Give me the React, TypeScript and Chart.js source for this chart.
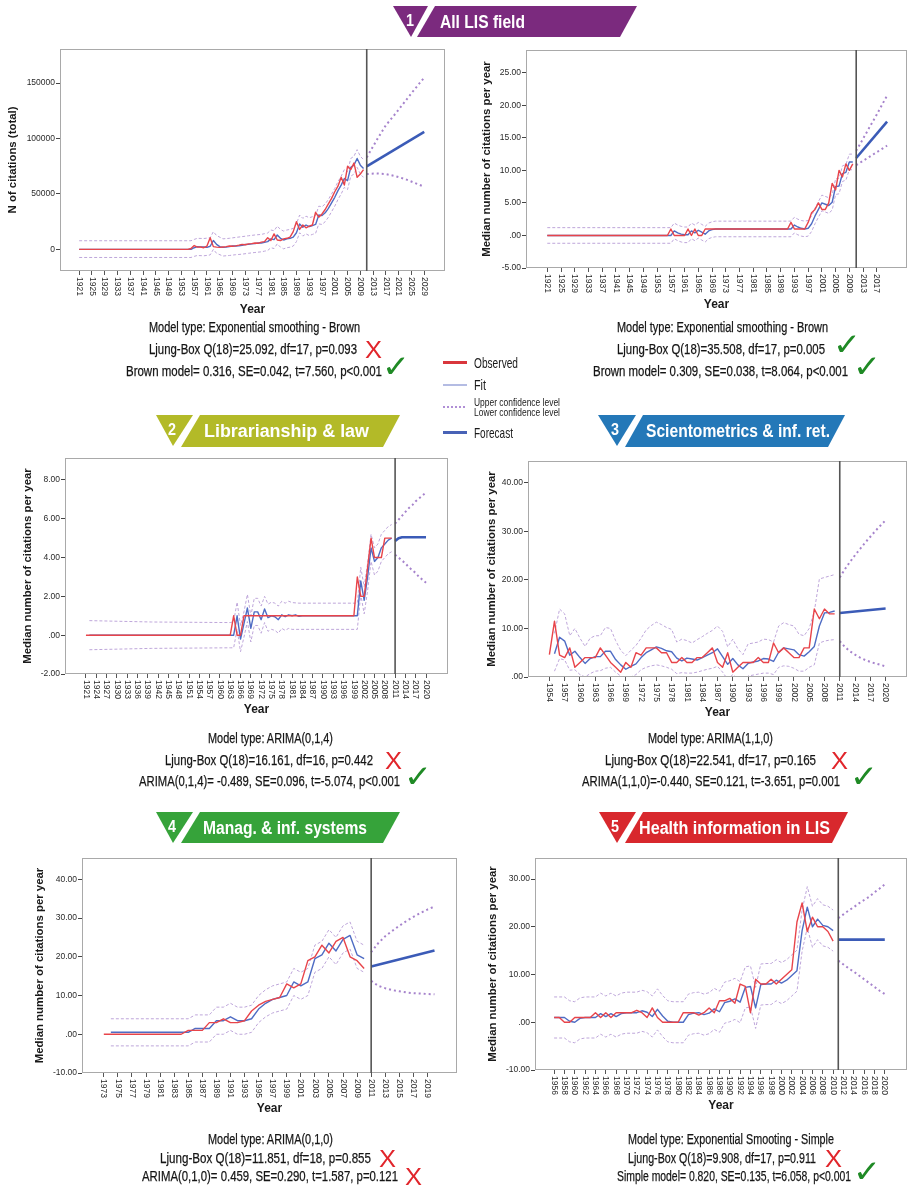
import React, { useEffect, useRef } from "react";
import { Chart, registerables } from "chart.js";

Chart.register(...registerables);

type P = [number, number];

// ================= DATA =================
const forecastStartYear = 2011;

// ---- 1. All LIS field (N of citations, total) ----
const c1XTicks = [1921, 1925, 1929, 1933, 1937, 1941, 1945, 1949, 1953, 1957, 1961, 1965, 1969, 1973, 1977, 1981, 1985, 1989, 1993, 1997, 2001, 2005, 2009, 2013, 2017, 2021, 2025, 2029];
const c1YTicks = [0, 50000, 100000, 150000];
const c1Observed: P[] = [[1921, 0], [1955, 0], [1956, 800], [1957, 3500], [1958, 2000], [1959, 2200], [1960, 1500], [1961, 3000], [1962, 10500], [1963, 2500], [1964, 2000], [1965, 1800], [1966, 2200], [1967, 2500], [1968, 3000], [1969, 2800], [1970, 3200], [1971, 3800], [1972, 4500], [1973, 4200], [1974, 5000], [1975, 5200], [1976, 5800], [1977, 5500], [1978, 6500], [1979, 7000], [1980, 10500], [1981, 8000], [1982, 14000], [1983, 8500], [1984, 8000], [1985, 9500], [1986, 10000], [1987, 11000], [1988, 16000], [1989, 25000], [1990, 18000], [1991, 22000], [1992, 19500], [1993, 21000], [1994, 22000], [1995, 33500], [1996, 29000], [1997, 32000], [1998, 36000], [1999, 41000], [2000, 46000], [2001, 52000], [2002, 57000], [2003, 65000], [2004, 58000], [2005, 75000], [2006, 72000], [2007, 78000], [2008, 65000], [2009, 68000], [2010, 72000]];
const c1Fit: P[] = [[1921, 0], [1956, 0], [1957, 1500], [1958, 2500], [1959, 2300], [1960, 2200], [1961, 1800], [1962, 2800], [1963, 8000], [1964, 4500], [1965, 2500], [1966, 1800], [1967, 2000], [1968, 2500], [1969, 3000], [1970, 3000], [1971, 3200], [1972, 3700], [1973, 4400], [1974, 4500], [1975, 5000], [1976, 5200], [1977, 5800], [1978, 5700], [1979, 6400], [1980, 7000], [1981, 9500], [1982, 8800], [1983, 13000], [1984, 10000], [1985, 8500], [1986, 9500], [1987, 10000], [1988, 11000], [1989, 15000], [1990, 23000], [1991, 20000], [1992, 22000], [1993, 20500], [1994, 21500], [1995, 22500], [1996, 31000], [1997, 30500], [1998, 33000], [1999, 37000], [2000, 42000], [2001, 47000], [2002, 53000], [2003, 58000], [2004, 64000], [2005, 62000], [2006, 74000], [2007, 76000], [2008, 82000], [2009, 76000], [2010, 73000]];
const c1Ucl: P[] = [[1921, 7800], [1956, 7800], [1957, 9000], [1958, 10000], [1960, 9800], [1962, 10500], [1963, 16000], [1964, 12500], [1966, 9500], [1968, 10000], [1970, 10800], [1972, 11500], [1974, 12300], [1976, 13000], [1978, 13500], [1979, 14200], [1980, 14800], [1981, 17500], [1982, 16800], [1983, 21000], [1984, 18000], [1985, 16500], [1986, 17500], [1987, 18000], [1988, 19000], [1989, 23000], [1990, 31000], [1991, 28000], [1992, 30000], [1993, 28500], [1994, 29500], [1995, 30500], [1996, 39000], [1997, 38500], [1998, 41000], [1999, 45000], [2000, 50000], [2001, 55000], [2002, 61000], [2003, 66000], [2004, 72000], [2005, 70000], [2006, 82000], [2007, 84000], [2008, 90000], [2009, 84000], [2010, 81000]];
const c1Lcl: P[] = [[1921, -7300], [1956, -7300], [1957, -6300], [1958, -5500], [1960, -5800], [1962, -5000], [1963, 0], [1964, -3500], [1966, -6000], [1968, -5500], [1970, -4800], [1972, -4300], [1974, -3500], [1976, -2800], [1978, -2200], [1979, -1600], [1980, -1000], [1981, 1500], [1982, 800], [1983, 5000], [1984, 2000], [1985, 500], [1986, 1500], [1987, 2000], [1988, 3000], [1989, 7000], [1990, 15000], [1991, 12000], [1992, 14000], [1993, 12500], [1994, 13500], [1995, 14500], [1996, 23000], [1997, 22500], [1998, 25000], [1999, 29000], [2000, 34000], [2001, 39000], [2002, 45000], [2003, 50000], [2004, 56000], [2005, 54000], [2006, 66000], [2007, 68000], [2008, 74000], [2009, 68000], [2010, 65000]];
const c1Forecast: P[] = [[2011, 75000], [2029, 106000]];
const c1FUcl: P[] = [[2011, 83000], [2014, 98000], [2017, 112000], [2020, 122500], [2023, 133500], [2026, 144500], [2029, 155000]];
const c1FLcl: P[] = [[2011, 68000], [2014, 68500], [2017, 68000], [2020, 66000], [2023, 63500], [2026, 60000], [2029, 56500]];

// ---- 1b. All LIS field (median) ----
const c2XTicks = [1921, 1925, 1929, 1933, 1937, 1941, 1945, 1949, 1953, 1957, 1961, 1965, 1969, 1973, 1977, 1981, 1985, 1989, 1993, 1997, 2001, 2005, 2009, 2013, 2017];
const c2YTicks = [-5, 0, 5, 10, 15, 20, 25];
const c2Observed: P[] = [[1921, 0], [1956, 0], [1957, 1], [1958, 0], [1961, 0], [1962, 1], [1963, 0], [1964, 1], [1965, 0], [1966, 0], [1967, 1], [1991, 1], [1992, 2], [1993, 1], [1996, 1], [1997, 2], [1998, 3.5], [1999, 4], [2000, 5], [2001, 4], [2002, 4], [2003, 5], [2004, 8], [2005, 7], [2006, 10], [2007, 9], [2008, 11], [2009, 10], [2010, 11]];
const c2Fit: P[] = [[1921, 0], [1957, 0], [1958, 0.7], [1959, 0.4], [1960, 0.2], [1961, 0.1], [1962, 0.1], [1963, 0.7], [1964, 0.4], [1965, 0.8], [1966, 0.5], [1967, 0.2], [1968, 0.7], [1969, 0.9], [1970, 1.0], [1992, 1.0], [1993, 1.6], [1994, 1.3], [1995, 1.1], [1996, 1.0], [1997, 1.1], [1998, 1.8], [1999, 3.0], [2000, 4.0], [2001, 5.0], [2002, 4.8], [2003, 4.6], [2004, 5.1], [2005, 7.5], [2006, 7.6], [2007, 9.5], [2008, 9.7], [2009, 11.3], [2010, 11.3]];
const c2Ucl: P[] = [[1921, 1.2], [1957, 1.2], [1958, 1.9], [1959, 1.6], [1960, 1.4], [1961, 1.3], [1962, 1.3], [1963, 1.9], [1964, 1.6], [1965, 2.0], [1966, 1.7], [1967, 1.4], [1968, 1.9], [1969, 2.1], [1970, 2.2], [1992, 2.2], [1993, 2.8], [1994, 2.5], [1995, 2.3], [1996, 2.2], [1997, 2.3], [1998, 3.0], [1999, 4.2], [2000, 5.2], [2001, 6.2], [2002, 6.0], [2003, 5.8], [2004, 6.3], [2005, 8.7], [2006, 8.8], [2007, 10.7], [2008, 10.9], [2009, 12.5], [2010, 12.5]];
const c2Lcl: P[] = [[1921, -1.2], [1957, -1.2], [1958, -0.5], [1959, -0.8], [1960, -1.0], [1961, -1.1], [1962, -1.1], [1963, -0.5], [1964, -0.8], [1965, -0.4], [1966, -0.7], [1967, -1.0], [1968, -0.5], [1969, -0.3], [1970, -0.2], [1992, -0.2], [1993, 0.4], [1994, 0.1], [1995, -0.1], [1996, -0.2], [1997, -0.1], [1998, 0.6], [1999, 1.8], [2000, 2.8], [2001, 3.8], [2002, 3.6], [2003, 3.4], [2004, 3.9], [2005, 6.3], [2006, 6.4], [2007, 8.3], [2008, 8.5], [2009, 10.1], [2010, 10.1]];
const c2Forecast: P[] = [[2011, 11.9], [2020, 17.5]];
const c2FUcl: P[] = [[2011, 13.0], [2014, 15.8], [2017, 18.6], [2020, 21.5]];
const c2FLcl: P[] = [[2011, 10.8], [2014, 11.8], [2017, 12.8], [2020, 13.8]];

// ---- 2. Librarianship & law ----
const c3XTicks = [1921, 1924, 1927, 1930, 1933, 1936, 1939, 1942, 1945, 1948, 1951, 1954, 1957, 1960, 1963, 1966, 1969, 1972, 1975, 1978, 1981, 1984, 1987, 1990, 1993, 1996, 1999, 2002, 2005, 2008, 2011, 2014, 2017, 2020];
const c3YTicks = [-2, 0, 2, 4, 6, 8];
const c3Observed: P[] = [[1921, 0], [1963, 0], [1964, 1], [1965, 0], [1966, 0], [1967, 1], [1999, 1], [2000, 3], [2001, 2], [2002, 2], [2003, 3.5], [2004, 5], [2005, 4], [2006, 4], [2007, 4], [2008, 5], [2009, 5], [2010, 5]];
const c3Fit: P[] = [[1922, 0], [1964, 0], [1965, 1.0], [1966, -0.2], [1967, 0.6], [1968, 1.4], [1969, 0.35], [1970, 1.2], [1971, 1.2], [1972, 0.8], [1973, 1.35], [1974, 0.9], [1975, 1.0], [1976, 0.95], [1977, 0.8], [1978, 1.05], [1979, 0.95], [1980, 1.05], [1981, 1.0], [1982, 1.05], [1983, 0.97], [1984, 1.0], [2000, 1.0], [2001, 2.8], [2002, 1.8], [2003, 3.0], [2004, 4.5], [2005, 3.8], [2006, 4.0], [2007, 4.5], [2008, 4.7], [2009, 4.9], [2010, 5.0]];
const c3Ucl: P[] = [[1922, 0.75], [1940, 0.68], [1963, 0.65], [1964, 0.7], [1965, 1.7], [1966, 0.5], [1967, 1.2], [1968, 2.1], [1969, 1.0], [1970, 1.9], [1971, 1.9], [1972, 1.5], [1973, 2.0], [1974, 1.6], [1975, 1.7], [1976, 1.65], [1977, 1.5], [1978, 1.75], [1979, 1.65], [1980, 1.75], [1981, 1.68], [1983, 1.65], [2000, 1.65], [2001, 3.5], [2002, 2.5], [2003, 3.7], [2004, 5.2], [2005, 4.5], [2006, 4.7], [2007, 5.2], [2008, 5.4], [2009, 5.6], [2010, 5.7]];
const c3Lcl: P[] = [[1922, -0.75], [1940, -0.68], [1963, -0.65], [1964, -0.65], [1965, 0.3], [1966, -0.85], [1967, -0.1], [1968, 0.7], [1969, -0.35], [1970, 0.5], [1971, 0.5], [1972, 0.1], [1973, 0.65], [1974, 0.2], [1975, 0.3], [1976, 0.25], [1977, 0.1], [1978, 0.35], [1979, 0.25], [1980, 0.35], [1981, 0.3], [2000, 0.3], [2001, 2.1], [2002, 1.1], [2003, 2.3], [2004, 3.8], [2005, 3.1], [2006, 3.3], [2007, 3.8], [2008, 4.0], [2009, 4.2], [2010, 4.3]];
const c3Forecast: P[] = [[2011, 4.85], [2012, 5.0], [2013, 5.05], [2020, 5.05]];
const c3FUcl: P[] = [[2011, 5.75], [2012, 5.95], [2013, 6.15], [2014, 6.35], [2015, 6.55], [2016, 6.7], [2017, 6.9], [2018, 7.05], [2019, 7.2], [2020, 7.35]];
const c3FLcl: P[] = [[2011, 4.15], [2012, 4.0], [2013, 3.85], [2014, 3.7], [2015, 3.5], [2016, 3.35], [2017, 3.2], [2018, 3.0], [2019, 2.85], [2020, 2.7]];

// ---- 3. Scientometrics & inf. ret. ----
const c4XTicks = [1954, 1957, 1960, 1963, 1966, 1969, 1972, 1975, 1978, 1981, 1984, 1987, 1990, 1993, 1996, 1999, 2002, 2005, 2008, 2011, 2014, 2017, 2020];
const c4YTicks = [0, 10, 20, 30, 40];
const c4Observed: P[] = [[1954, 4.6], [1955, 11.5], [1956, 4.5], [1957, 4], [1958, 6], [1959, 2], [1960, 3], [1961, 4], [1962, 4], [1963, 4], [1964, 6], [1965, 4.5], [1966, 3], [1967, 2], [1968, 1], [1969, 3], [1970, 2], [1971, 5], [1972, 4.5], [1973, 6], [1974, 6], [1975, 6], [1976, 5], [1977, 5], [1978, 3], [1979, 3], [1980, 4], [1981, 3], [1982, 3], [1983, 4], [1984, 4], [1985, 5], [1986, 6], [1987, 3], [1988, 2], [1989, 5], [1990, 1], [1991, 2], [1992, 3], [1993, 3], [1994, 3], [1995, 4], [1996, 3], [1997, 3], [1998, 7], [1999, 5], [2000, 6], [2001, 5], [2002, 4], [2003, 4], [2004, 6], [2005, 6], [2006, 14], [2007, 12], [2008, 14], [2009, 13], [2010, 13]];
const c4Fit: P[] = [[1955, 4.8], [1956, 8.2], [1957, 7.4], [1958, 4.5], [1959, 5.3], [1960, 4.0], [1961, 2.8], [1962, 3.8], [1963, 4.2], [1964, 4.2], [1965, 5.3], [1966, 5.3], [1967, 3.6], [1968, 2.5], [1969, 1.6], [1970, 2.2], [1971, 2.7], [1972, 4.0], [1973, 5.0], [1974, 5.6], [1975, 6.2], [1976, 5.9], [1977, 5.4], [1978, 5.2], [1979, 3.9], [1980, 3.3], [1981, 3.9], [1982, 3.7], [1983, 3.5], [1984, 4.0], [1985, 4.5], [1986, 5.0], [1987, 5.8], [1988, 4.2], [1989, 2.6], [1990, 3.8], [1991, 2.5], [1992, 1.7], [1993, 2.8], [1994, 3.1], [1995, 3.3], [1996, 3.8], [1997, 3.7], [1998, 3.2], [1999, 5.1], [2000, 6.0], [2001, 5.8], [2002, 5.6], [2003, 4.6], [2004, 4.3], [2005, 5.2], [2006, 6.3], [2007, 10.5], [2008, 13.2], [2009, 13.3], [2010, 13.6]];
const c4Ucl: P[] = [[1955, 9], [1956, 14], [1957, 13], [1958, 8.5], [1959, 10], [1960, 8], [1961, 6.3], [1962, 8], [1963, 8.5], [1964, 8.5], [1965, 10.2], [1966, 10], [1967, 7.5], [1968, 5.5], [1969, 4.4], [1970, 5.5], [1971, 6.5], [1972, 8], [1973, 9.7], [1974, 10.6], [1975, 11.3], [1976, 10.8], [1977, 10.2], [1978, 9.8], [1979, 7.2], [1980, 7.8], [1981, 7.5], [1982, 7], [1983, 7.7], [1984, 8.3], [1985, 9], [1986, 9.6], [1987, 10.5], [1988, 9.4], [1989, 6.2], [1990, 7.8], [1991, 5.8], [1992, 4.6], [1993, 6.8], [1994, 7], [1995, 7.2], [1996, 7.8], [1997, 7.7], [1998, 7.2], [1999, 10.5], [2000, 11.2], [2001, 10.8], [2002, 10.5], [2003, 8.8], [2004, 8.5], [2005, 10], [2006, 13.5], [2007, 20.2], [2008, 20.5], [2009, 20.8], [2010, 21.1]];
const c4Lcl: P[] = [[1955, 1.2], [1956, 3.8], [1957, 3.5], [1958, 1.4], [1959, 1.5], [1960, 0.5], [1961, 0], [1962, 0.7], [1963, 1.2], [1964, 1.3], [1965, 1.8], [1966, 2], [1967, 1], [1968, 0.2], [1969, -0.5], [1970, 0], [1971, 0.5], [1972, 1.5], [1973, 2], [1974, 2.3], [1975, 2.5], [1976, 2.3], [1977, 2], [1978, 1.6], [1979, 0.7], [1980, 0.9], [1981, 0.8], [1982, 0.8], [1983, 1], [1984, 1.3], [1985, 1.6], [1986, 1.8], [1987, 2.2], [1988, 1], [1989, -0.5], [1990, 0.5], [1991, -0.3], [1992, -0.8], [1993, 0.2], [1994, 0.4], [1995, 0.6], [1996, 0.8], [1997, 0.8], [1998, 0.5], [1999, 2], [2000, 2.3], [2001, 2.2], [2002, 1.8], [2003, 1.2], [2004, 1.2], [2005, 2], [2006, 2.5], [2007, 7], [2008, 7.4], [2009, 7.6], [2010, 7.7]];
const c4Forecast: P[] = [[2011, 13.2], [2020, 14.1]];
const c4FUcl: P[] = [[2011, 20.5], [2012, 22.2], [2013, 23.7], [2014, 25.1], [2015, 26.4], [2016, 27.7], [2017, 28.9], [2018, 30.1], [2019, 31.2], [2020, 32.3]];
const c4FLcl: P[] = [[2011, 7.4], [2012, 6.2], [2013, 5.3], [2014, 4.6], [2015, 4.0], [2016, 3.5], [2017, 3.1], [2018, 2.8], [2019, 2.5], [2020, 2.2]];

// ---- 4. Manag. & inf. systems ----
const c5XTicks = [1973, 1975, 1977, 1979, 1981, 1983, 1985, 1987, 1989, 1991, 1993, 1995, 1997, 1999, 2001, 2003, 2005, 2007, 2009, 2011, 2013, 2015, 2017, 2019];
const c5YTicks = [-10, 0, 10, 20, 30, 40];
const c5Observed: P[] = [[1973, 0], [1984, 0], [1985, 1], [1986, 1], [1987, 1], [1988, 3], [1989, 3], [1990, 4], [1991, 3], [1992, 3], [1993, 3.5], [1994, 6], [1995, 7.5], [1996, 8.5], [1997, 9], [1998, 9.5], [1999, 13], [2000, 12], [2001, 13], [2002, 19], [2003, 20], [2004, 23], [2005, 21], [2006, 24], [2007, 25], [2008, 20], [2009, 19], [2010, 17]];
const c5Fit: P[] = [[1974, 0.5], [1985, 0.5], [1986, 1.5], [1987, 1.5], [1988, 1.5], [1989, 3.5], [1990, 3.5], [1991, 4.5], [1992, 3.5], [1993, 3.5], [1994, 4.0], [1995, 6.5], [1996, 8.0], [1997, 9.0], [1998, 9.5], [1999, 10.0], [2000, 13.5], [2001, 12.5], [2002, 13.5], [2003, 19.5], [2004, 20.5], [2005, 23.5], [2006, 21.5], [2007, 24.5], [2008, 25.5], [2009, 20.5], [2010, 19.5]];
const c5Ucl: P[] = [[1974, 4], [1985, 4], [1986, 5], [1987, 5], [1988, 5], [1989, 7], [1990, 7], [1991, 8], [1992, 7], [1993, 7], [1994, 7.5], [1995, 10], [1996, 11.5], [1997, 12.5], [1998, 13], [1999, 13.5], [2000, 17], [2001, 16], [2002, 17], [2003, 23], [2004, 24], [2005, 27], [2006, 25], [2007, 28], [2008, 29], [2009, 24], [2010, 23]];
const c5Lcl: P[] = [[1974, -3], [1985, -3], [1986, -2], [1987, -2], [1988, -2], [1989, 0], [1990, 0], [1991, 1], [1992, 0], [1993, 0], [1994, 0.5], [1995, 3], [1996, 4.5], [1997, 5.5], [1998, 6], [1999, 6.5], [2000, 10], [2001, 9], [2002, 10], [2003, 16], [2004, 17], [2005, 20], [2006, 18], [2007, 21], [2008, 22], [2009, 17], [2010, 16]];
const c5Forecast: P[] = [[2011, 17.5], [2020, 21.6]];
const c5FUcl: P[] = [[2011, 21.2], [2012, 23.5], [2013, 25.3], [2014, 26.7], [2015, 28.0], [2016, 29.2], [2017, 30.3], [2018, 31.3], [2019, 32.2], [2020, 33.0]];
const c5FLcl: P[] = [[2011, 13.8], [2012, 12.5], [2013, 11.9], [2014, 11.4], [2015, 11.1], [2016, 10.8], [2017, 10.6], [2018, 10.5], [2019, 10.4], [2020, 10.3]];

// ---- 5. Health information in LIS ----
const c6XTicks = [1956, 1958, 1960, 1962, 1964, 1966, 1968, 1970, 1972, 1974, 1976, 1978, 1980, 1982, 1984, 1986, 1988, 1990, 1992, 1994, 1996, 1998, 2000, 2002, 2004, 2006, 2008, 2010, 2012, 2014, 2016, 2018, 2020];
const c6YTicks = [-10, 0, 10, 20, 30];
const c6Observed: P[] = [[1956, 1], [1957, 1], [1958, 0], [1959, 0], [1960, 1], [1961, 1], [1962, 1], [1963, 1], [1964, 2], [1965, 1], [1966, 2], [1967, 1], [1968, 2], [1969, 2], [1970, 2], [1971, 2], [1972, 2.5], [1973, 2], [1974, 1], [1975, 3], [1976, 1], [1977, 0], [1978, 0], [1979, 0], [1980, 0], [1981, 2], [1982, 2], [1983, 2], [1984, 1.5], [1985, 2], [1986, 3], [1987, 2], [1988, 4.5], [1989, 4.5], [1990, 5], [1991, 4], [1992, 8], [1993, 7.5], [1994, 2], [1995, 9], [1996, 8], [1997, 8], [1998, 9], [1999, 8], [2000, 9], [2001, 10], [2002, 11], [2003, 21], [2004, 25], [2005, 19], [2006, 22], [2007, 20], [2008, 20], [2009, 19], [2010, 17]];
const c6Fit: P[] = [[1956, 1], [1957, 1], [1958, 1], [1959, 0.2], [1960, 0], [1961, 0.8], [1962, 1], [1963, 1], [1964, 1], [1965, 1.8], [1966, 1.2], [1967, 1.8], [1968, 1.2], [1969, 1.8], [1970, 2], [1971, 2], [1972, 2], [1973, 2.4], [1974, 2.1], [1975, 1.2], [1976, 2.7], [1977, 1.3], [1978, 0.2], [1979, 0], [1980, 0], [1981, 0], [1982, 1.6], [1983, 1.9], [1984, 2], [1985, 1.6], [1986, 1.9], [1987, 2.8], [1988, 2.2], [1989, 4.1], [1990, 4.4], [1991, 4.9], [1992, 4.2], [1993, 7.3], [1994, 7.5], [1995, 3], [1996, 7.9], [1997, 8], [1998, 8], [1999, 8.8], [2000, 8.2], [2001, 8.8], [2002, 9.8], [2003, 10.8], [2004, 19.2], [2005, 24.1], [2006, 20], [2007, 21.6], [2008, 20.3], [2009, 20], [2010, 19.2]];
const c6Ucl: P[] = [[1956, 5.3], [1957, 5.3], [1958, 5.3], [1959, 4.5], [1960, 4.3], [1961, 5.1], [1962, 5.3], [1963, 5.3], [1964, 5.3], [1965, 6.1], [1966, 5.5], [1967, 6.1], [1968, 5.5], [1969, 6.1], [1970, 6.3], [1971, 6.3], [1972, 6.3], [1973, 6.7], [1974, 6.4], [1975, 5.5], [1976, 7.0], [1977, 5.6], [1978, 4.5], [1979, 4.3], [1980, 4.3], [1981, 4.3], [1982, 5.9], [1983, 6.2], [1984, 6.3], [1985, 5.9], [1986, 6.2], [1987, 7.1], [1988, 6.5], [1989, 8.4], [1990, 8.7], [1991, 9.2], [1992, 8.5], [1993, 11.6], [1994, 11.8], [1995, 7.3], [1996, 12.2], [1997, 12.3], [1998, 12.3], [1999, 13.1], [2000, 12.5], [2001, 13.1], [2002, 14.1], [2003, 15.1], [2004, 23.5], [2005, 28.4], [2006, 24.3], [2007, 25.9], [2008, 24.6], [2009, 24.3], [2010, 23.5]];
const c6Lcl: P[] = [[1956, -3.3], [1957, -3.3], [1958, -3.3], [1959, -4.1], [1960, -4.3], [1961, -3.5], [1962, -3.3], [1963, -3.3], [1964, -3.3], [1965, -2.5], [1966, -3.1], [1967, -2.5], [1968, -3.1], [1969, -2.5], [1970, -2.3], [1971, -2.3], [1972, -2.3], [1973, -1.9], [1974, -2.2], [1975, -3.1], [1976, -1.6], [1977, -3.0], [1978, -4.1], [1979, -4.3], [1980, -4.3], [1981, -4.3], [1982, -2.7], [1983, -2.4], [1984, -2.3], [1985, -2.7], [1986, -2.4], [1987, -1.5], [1988, -2.1], [1989, -0.2], [1990, 0.1], [1991, 0.6], [1992, -0.1], [1993, 3.0], [1994, 3.2], [1995, -1.3], [1996, 3.6], [1997, 3.7], [1998, 3.7], [1999, 4.5], [2000, 3.9], [2001, 4.5], [2002, 5.5], [2003, 6.5], [2004, 14.9], [2005, 19.8], [2006, 15.7], [2007, 17.3], [2008, 16.0], [2009, 15.7], [2010, 14.9]];
const c6Forecast: P[] = [[2011, 17.3], [2020, 17.3]];
const c6FUcl: P[] = [[2011, 21.8], [2012, 22.6], [2013, 23.4], [2014, 24.1], [2015, 24.9], [2016, 25.6], [2017, 26.3], [2018, 27.2], [2019, 28.0], [2020, 28.9]];
const c6FLcl: P[] = [[2011, 12.9], [2012, 12.1], [2013, 11.3], [2014, 10.6], [2015, 9.8], [2016, 9.0], [2017, 8.2], [2018, 7.4], [2019, 6.6], [2020, 5.9]];

// ---- statistics texts ----
const c1Stats = ["Model type: Exponential smoothing - Brown", "Ljung-Box Q(18)=25.092, df=17, p=0.093", "Brown model= 0.316, SE=0.042, t=7.560, p<0.001"];
const c1Marks = ["", "x", "ok"];
const c2Stats = ["Model type: Exponential smoothing - Brown", "Ljung-Box Q(18)=35.508, df=17, p=0.005", "Brown model= 0.309, SE=0.038, t=8.064, p<0.001"];
const c2Marks = ["", "ok", "ok"];
const c3Stats = ["Model type: ARIMA(0,1,4)", "Ljung-Box Q(18)=16.161, df=16, p=0.442", "ARIMA(0,1,4)= -0.489, SE=0.096, t=-5.074, p<0.001"];
const c3Marks = ["", "x", "ok"];
const c4Stats = ["Model type: ARIMA(1,1,0)", "Ljung-Box Q(18)=22.541, df=17, p=0.165", "ARIMA(1,1,0)=-0.440, SE=0.121, t=-3.651, p=0.001"];
const c4Marks = ["", "x", "ok"];
const c5Stats = ["Model type: ARIMA(0,1,0)", "Ljung-Box Q(18)=11.851, df=18, p=0.855", "ARIMA(0,1,0)= 0.459, SE=0.290, t=1.587, p=0.121"];
const c5Marks = ["", "x", "x"];
const c6Stats = ["Model type: Exponential Smooting - Simple", "Ljung-Box Q(18)=9.908, df=17, p=0.911", "Simple model= 0.820, SE=0.135, t=6.058, p<0.001"];
const c6Marks = ["", "x", "ok"];

const legendLabels = ["Observed", "Fit", "Upper confidence level", "Lower confidence level", "Forecast"];

// ================= STYLE / LAYOUT =================
const ARIAL = '"Liberation Sans", Arial, Helvetica, sans-serif';

const COL = {
  observed: "#e8444a",
  fit: "#4f6cc4",
  ci: "#bea6da",
  forecast: "#3b5bb7",
  fci: "#a683cc",
  frame: "#a9a9a9",
  split: "#555555",
};

const PAD_TOP = 8;
const PAD_RIGHT = 8;

const fmtMedian = (v: number) => {
  const s = Math.abs(v).toFixed(2);
  return (v < 0 ? "-" : "") + (s.startsWith("0.") ? s.slice(1) : s);
};

const framePlugin = {
  id: "frame",
  afterDraw(chart: any, _args: any, opts: any) {
    const { ctx, chartArea: a } = chart;
    const x = chart.scales.x;
    ctx.save();
    ctx.setLineDash([]);
    ctx.strokeStyle = COL.frame;
    ctx.lineWidth = 1;
    ctx.strokeRect(Math.round(a.left) + 0.5, Math.round(a.top) + 0.5, Math.round(a.width) - 1, Math.round(a.height) - 1);
    const sx = x.getPixelForValue(opts.split);
    ctx.strokeStyle = COL.split;
    ctx.lineWidth = 1.6;
    ctx.beginPath();
    ctx.moveTo(sx, a.top);
    ctx.lineTo(sx, a.bottom);
    ctx.stroke();
    ctx.fillStyle = "#2a2a2a";
    ctx.font = `8.5px ${ARIAL}`;
    ctx.textAlign = "left";
    ctx.textBaseline = "middle";
    x.ticks.forEach((t: any) => {
      const px = x.getPixelForValue(t.value);
      ctx.save();
      ctx.translate(px, a.bottom + 6);
      ctx.rotate(Math.PI / 2);
      ctx.fillText(String(t.value), 0, 0);
      ctx.restore();
    });
    ctx.restore();
  },
};

type Spec = {
  key: string;
  box: { left: number; top: number; right: number; bottom: number };
  yW: number;
  xH: number;
  xRange: [number, number];
  yRange: [number, number];
  xTicks: number[];
  yTicks: number[];
  yTitle: string;
  yTitlePad: number;
  decimals: boolean;
  observed: P[];
  fit: P[];
  ucl: P[];
  lcl: P[];
  forecast: P[];
  fUcl: P[];
  fLcl: P[];
};

const CHARTS: Spec[] = [
  { key: "c1", box: { left: 60, top: 49, right: 445, bottom: 271 }, yW: 60, xH: 50, xRange: [1915, 2035.5], yRange: [-19500, 180800], xTicks: c1XTicks, yTicks: c1YTicks, yTitle: "N of citations (total)", yTitlePad: 5.9, decimals: false, observed: c1Observed, fit: c1Fit, ucl: c1Ucl, lcl: c1Lcl, forecast: c1Forecast, fUcl: c1FUcl, fLcl: c1FLcl },
  { key: "c2", box: { left: 526, top: 50, right: 907, bottom: 268 }, yW: 50, xH: 48, xRange: [1914.8, 2025.8], yRange: [-5, 28.5], xTicks: c2XTicks, yTicks: c2YTicks, yTitle: "Median number of citations per year", yTitlePad: 4.5, decimals: true, observed: c2Observed, fit: c2Fit, ucl: c2Ucl, lcl: c2Lcl, forecast: c2Forecast, fUcl: c2FUcl, fLcl: c2FLcl },
  { key: "c3", box: { left: 65, top: 458, right: 448, bottom: 674 }, yW: 50, xH: 47, xRange: [1914.9, 2026.4], yRange: [-2, 9.13], xTicks: c3XTicks, yTicks: c3YTicks, yTitle: "Median number of citations per year", yTitlePad: 6.5, decimals: true, observed: c3Observed, fit: c3Fit, ucl: c3Ucl, lcl: c3Lcl, forecast: c3Forecast, fUcl: c3FUcl, fLcl: c3FLcl },
  { key: "c4", box: { left: 528, top: 461, right: 907, bottom: 677 }, yW: 50, xH: 47, xRange: [1949.8, 2024.2], yRange: [0, 44.5], xTicks: c4XTicks, yTicks: c4YTicks, yTitle: "Median number of citations per year", yTitlePad: 6.8, decimals: true, observed: c4Observed, fit: c4Fit, ucl: c4Ucl, lcl: c4Lcl, forecast: c4Forecast, fUcl: c4FUcl, fLcl: c4FLcl },
  { key: "c5", box: { left: 82, top: 858, right: 457, bottom: 1073 }, yW: 50, xH: 47, xRange: [1969.9, 2023.2], yRange: [-10, 45.5], xTicks: c5XTicks, yTicks: c5YTicks, yTitle: "Median number of citations per year", yTitlePad: 1.2, decimals: true, observed: c5Observed, fit: c5Fit, ucl: c5Ucl, lcl: c5Lcl, forecast: c5Forecast, fUcl: c5FUcl, fLcl: c5FLcl },
  { key: "c6", box: { left: 535, top: 858, right: 907, bottom: 1070 }, yW: 50, xH: 47, xRange: [1952.3, 2024.3], yRange: [-10, 34.4], xTicks: c6XTicks, yTicks: c6YTicks, yTitle: "Median number of citations per year", yTitlePad: 1.5, decimals: true, observed: c6Observed, fit: c6Fit, ucl: c6Ucl, lcl: c6Lcl, forecast: c6Forecast, fUcl: c6FUcl, fLcl: c6FLcl },
];

// text line placement: start x, width (condensed via textLength), centre y, mark x
const STAT_BLOCKS = [
  { lines: c1Stats, marks: c1Marks, xs: [149, 149, 126], ws: [211, 208, 256], ys: [327, 349, 371], mx: [0, 365, 382] },
  { lines: c2Stats, marks: c2Marks, xs: [617, 617, 593], ws: [211, 208, 255], ys: [327, 349, 371], mx: [0, 833, 853] },
  { lines: c3Stats, marks: c3Marks, xs: [208, 165, 139], ws: [125, 208, 261], ys: [738, 760, 781], mx: [0, 385, 404] },
  { lines: c4Stats, marks: c4Marks, xs: [648, 605, 582], ws: [125, 211, 258], ys: [738, 760, 781], mx: [0, 831, 850] },
  { lines: c5Stats, marks: c5Marks, xs: [208, 160, 142], ws: [125, 211, 256], ys: [1139, 1158, 1176], mx: [0, 379, 405] },
  { lines: c6Stats, marks: c6Marks, xs: [628, 628, 617], ws: [206, 188, 234], ys: [1139, 1158, 1176], mx: [0, 825, 853] },
];

const BANNERS = [
  { num: "1", label: "All LIS field", color: "#7b2a7e", tri: "393,6 428,6 411,37", para: "435,6 637,6 620,37 417,37", numX: 410, textX: 440, textW: 85, baseY: 28 },
  { num: "2", label: "Librarianship & law", color: "#b3ba28", tri: "156,415 193,415 173,446", para: "200,415 400,415 383,447 181,447", numX: 172, textX: 204, textW: 165, baseY: 437 },
  { num: "3", label: "Scientometrics & inf. ret.", color: "#2478b8", tri: "598,415 636,415 617,446", para: "643,415 845,415 828,447 625,447", numX: 615, textX: 646, textW: 184, baseY: 437 },
  { num: "4", label: "Manag. & inf. systems", color: "#36a33a", tri: "156,812 193,812 173,843", para: "200,812 400,812 383,843 181,843", numX: 172, textX: 203, textW: 164, baseY: 834 },
  { num: "5", label: "Health information in LIS", color: "#d8282d", tri: "599,812 636,812 617,843", para: "643,812 848,812 832,843 625,843", numX: 615, textX: 639, textW: 191, baseY: 834 },
];

const toXY = (arr: P[]) => arr.map(([x, y]) => ({ x, y }));

function buildConfig(s: Spec): any {
  const ds = (label: string, data: P[], color: string, width: number, dash: number[] = []) => ({
    label,
    data: toXY(data),
    borderColor: color,
    backgroundColor: color,
    borderWidth: width,
    borderDash: dash,
    pointRadius: 0,
    pointHoverRadius: 0,
    fill: false,
    tension: 0,
    borderJoinStyle: "round",
  });
  return {
    type: "line",
    data: {
      datasets: [
        ds("Forecast", s.forecast, COL.forecast, 2.6),
        ds("Observed", s.observed, COL.observed, 1.4),
        ds("Fit", s.fit, COL.fit, 1.4),
        ds("UCL (forecast)", s.fUcl, COL.fci, 2, [2, 3]),
        ds("LCL (forecast)", s.fLcl, COL.fci, 2, [2, 3]),
        ds("UCL", s.ucl, COL.ci, 1, [3, 2]),
        ds("LCL", s.lcl, COL.ci, 1, [3, 2]),
      ],
    },
    options: {
      responsive: false,
      animation: false,
      devicePixelRatio: 1,
      events: [],
      layout: { padding: { top: PAD_TOP, right: PAD_RIGHT, left: 0, bottom: 0 } },
      plugins: {
        legend: { display: false },
        tooltip: { enabled: false },
        frame: { split: forecastStartYear },
      },
      scales: {
        x: {
          type: "linear",
          min: s.xRange[0],
          max: s.xRange[1],
          afterBuildTicks: (sc: any) => {
            sc.ticks = s.xTicks.map((v) => ({ value: v }));
          },
          afterFit: (sc: any) => {
            sc.height = s.xH;
          },
          ticks: { autoSkip: false, color: "rgba(0,0,0,0)", minRotation: 90, maxRotation: 90, font: { size: 8, family: ARIAL } },
          grid: { drawOnChartArea: false, drawTicks: true, tickLength: 4, color: "#555" },
          border: { display: false },
          title: { display: true, text: "Year", color: "#1a1a1a", font: { family: ARIAL, size: 12, weight: "bold" }, padding: { top: 0, bottom: 4 } },
        },
        y: {
          type: "linear",
          min: s.yRange[0],
          max: s.yRange[1],
          afterBuildTicks: (sc: any) => {
            sc.ticks = s.yTicks.map((v) => ({ value: v }));
          },
          afterFit: (sc: any) => {
            sc.width = s.yW;
          },
          ticks: {
            color: "#2a2a2a",
            padding: 1,
            font: { size: 8.5, family: ARIAL },
            callback: (v: any) => (s.decimals ? fmtMedian(Number(v)) : String(v)),
          },
          grid: { drawOnChartArea: false, drawTicks: true, tickLength: 4, color: "#444" },
          border: { display: false },
          title: { display: true, text: s.yTitle, color: "#1a1a1a", font: { family: ARIAL, size: 11.4, weight: "bold" }, padding: { top: s.yTitlePad, bottom: 0 } },
        },
      },
    },
    plugins: [framePlugin],
  };
}

function LineChart({ spec }: { spec: Spec }) {
  const ref = useRef<HTMLCanvasElement>(null);
  const { box, yW, xH } = spec;
  const left = box.left - yW;
  const top = box.top - PAD_TOP;
  const width = box.right - box.left + yW + PAD_RIGHT;
  const height = box.bottom - box.top + PAD_TOP + xH;
  useEffect(() => {
    if (!ref.current) return;
    const chart = new Chart(ref.current, buildConfig(spec));
    return () => chart.destroy();
  }, [spec]);
  return <canvas ref={ref} width={width} height={height} style={{ position: "absolute", left, top, width, height }} />;
}

function Mark({ kind, x, y }: { kind: string; x: number; y: number }) {
  if (kind === "ok") {
    return (
      <text x={x} y={y - 5} dominantBaseline="central" fontFamily='"DejaVu Sans", sans-serif' fontWeight="bold" fontSize={31} fill="#1f8a25" textLength={28} lengthAdjust="spacingAndGlyphs">
        ✓
      </text>
    );
  }
  if (kind === "x") {
    return (
      <text x={x} y={y} dominantBaseline="central" fontFamily={ARIAL} fontSize={24} fill="#e1252b" textLength={17} lengthAdjust="spacingAndGlyphs">
        X
      </text>
    );
  }
  return null;
}

function Overlay() {
  const legendText = (label: string, y: number, size: number, w: number) => (
    <text x={474} y={y} dominantBaseline="central" fontFamily={ARIAL} fontSize={size} fill="#1a1a1a" textLength={w} lengthAdjust="spacingAndGlyphs">
      {label}
    </text>
  );
  return (
    <svg width={908} height={1188} style={{ position: "absolute", left: 0, top: 0, pointerEvents: "none" }}>
      {BANNERS.map((b) => (
        <g key={b.num}>
          <polygon points={b.tri} fill={b.color} />
          <polygon points={b.para} fill={b.color} />
          <text x={b.numX} y={b.baseY - 2} fill="#fff" textAnchor="middle" fontFamily={ARIAL} fontWeight="bold" fontSize={17} textLength={8} lengthAdjust="spacingAndGlyphs">
            {b.num}
          </text>
          <text x={b.textX} y={b.baseY} fill="#fff" fontFamily={ARIAL} fontWeight="bold" fontSize={17.5} textLength={b.textW} lengthAdjust="spacingAndGlyphs">
            {b.label}
          </text>
        </g>
      ))}
      {STAT_BLOCKS.map((b, bi) => (
        <g key={bi}>
          {b.lines.map((t, i) => (
            <g key={i}>
              <text x={b.xs[i]} y={b.ys[i]} dominantBaseline="central" fontFamily={ARIAL} fontSize={14.5} fill="#151515" stroke="#151515" strokeWidth={0.25} textLength={b.ws[i]} lengthAdjust="spacingAndGlyphs">
                {t}
              </text>
              <Mark kind={b.marks[i]} x={b.mx[i]} y={b.ys[i]} />
            </g>
          ))}
        </g>
      ))}
      {/* legend */}
      <line x1={443} x2={467} y1={362.5} y2={362.5} stroke="#d9363c" strokeWidth={3} />
      {legendText(legendLabels[0], 363, 14.5, 44)}
      <line x1={443} x2={467} y1={385} y2={385} stroke="#9ba6da" strokeWidth={1.5} />
      {legendText(legendLabels[1], 385, 14.5, 12)}
      <line x1={443} x2={467} y1={407} y2={407} stroke="#b08fd6" strokeWidth={2} strokeDasharray="2 2" />
      {legendText(legendLabels[2], 402, 10.5, 86)}
      {legendText(legendLabels[3], 412, 10.5, 86)}
      <line x1={443} x2={467} y1={432.5} y2={432.5} stroke="#4862b6" strokeWidth={3} />
      {legendText(legendLabels[4], 433, 14.5, 39)}
    </svg>
  );
}

export default function App() {
  return (
    <div style={{ position: "absolute", left: 0, top: 0, width: 908, height: 1188, overflow: "hidden", background: "#fff" }}>
      {CHARTS.map((s) => (
        <LineChart key={s.key} spec={s} />
      ))}
      <Overlay />
    </div>
  );
}
